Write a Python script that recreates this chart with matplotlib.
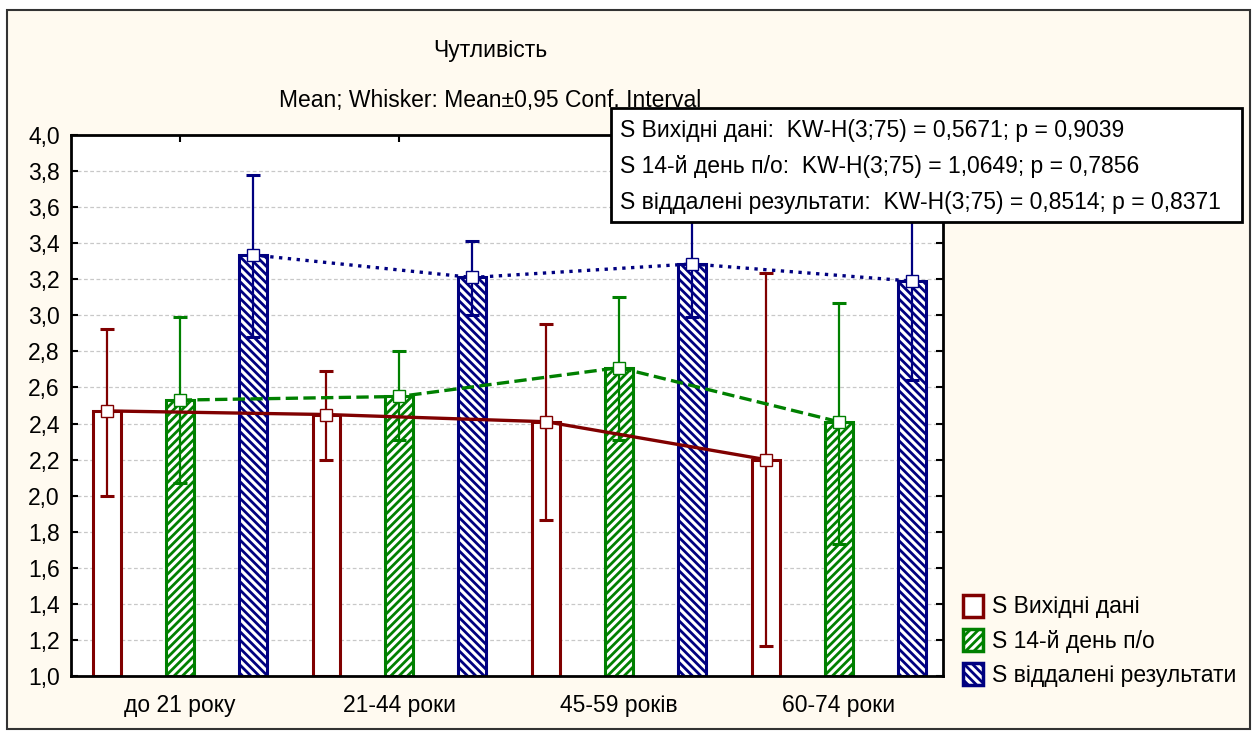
import numpy as np
import matplotlib
matplotlib.use("Agg")
import matplotlib.pyplot as plt
from matplotlib.patches import Rectangle, Patch

plt.rcParams['font.family'] = ['Liberation Sans', 'DejaVu Sans']
plt.rcParams['hatch.linewidth'] = 2.0

groups = ['до 21 року', '21-44 роки', '45-59 років', '60-74 роки']
series = ['S Вихідні дані', 'S 14-й день п/о', 'S віддалені результати']

# means and 95% CI bounds
mean_base = [2.47, 2.45, 2.41, 2.20]
lo_base = [2.00, 2.20, 1.865, 1.165]
hi_base = [2.925, 2.69, 2.95, 3.235]

mean_d14 = [2.53, 2.55, 2.71, 2.41]
lo_d14 = [2.07, 2.31, 2.31, 1.73]
hi_d14 = [2.99, 2.80, 3.10, 3.07]

mean_late = [3.335, 3.21, 3.285, 3.19]
lo_late = [2.88, 3.00, 2.99, 2.64]
hi_late = [3.78, 3.41, 3.58, 3.74]

stats = ['S Вихідні дані:  KW-H(3;75) = 0,5671; p = 0,9039',
         'S 14-й день п/о:  KW-H(3;75) = 1,0649; p = 0,7856',
         'S віддалені результати:  KW-H(3;75) = 0,8514; p = 0,8371']

colors = ['#800000', '#008000', '#000080']
hatches = [None, '////', '\\\\\\\\']
styles = ['-', '--', ':']
fs = 16.5

fig = plt.figure(figsize=(12.58, 7.35), dpi=100, facecolor='white')
fig.patches.append(Rectangle((7/1258, 1-729/735), 1243/1258, 719/735, transform=fig.transFigure,
                             facecolor='#fffaf0', edgecolor='#333333', lw=1.5, zorder=-10))
ax = fig.add_axes([71/1258, 1-676/735, 872/1258, 541/735])
ax.set_facecolor('white')

x = np.arange(len(groups))
off = 0.332
w = 0.127
data = [(mean_base, lo_base, hi_base), (mean_d14, lo_d14, hi_d14), (mean_late, lo_late, hi_late)]
for i, (m, lo, hi) in enumerate(data):
    m = np.array(m); lo = np.array(lo); hi = np.array(hi)
    xs = x + (i - 1) * off
    ax.bar(xs, m - 1.0, bottom=1.0, width=w, facecolor='white', edgecolor=colors[i],
           hatch=hatches[i], lw=2.2, zorder=2)
    ax.errorbar(xs, m, yerr=[m - lo, hi - m], fmt='none', ecolor=colors[i], elinewidth=1.6,
                capsize=5, capthick=2.2, zorder=3)
    ax.plot(xs, m, color=colors[i], ls=styles[i], lw=2.4, zorder=4)
    ax.plot(xs, m, ls='none', marker='s', ms=8, mfc='white', mec=colors[i], mew=1, zorder=5)

ax.set_xlim(-0.495, 3.475)
ax.set_ylim(1.0, 4.0)
yt = np.arange(1.0, 4.01, 0.2)
ax.set_yticks(yt)
ax.set_yticklabels([f"{v:.1f}".replace('.', ',') for v in yt], fontsize=fs)
ax.set_xticks(x)
ax.set_xticklabels(groups, fontsize=fs)
ax.tick_params(direction='in', top=True, right=True, length=5, width=1.5)
ax.tick_params(axis='x', pad=13)
ax.tick_params(axis='y', pad=8)
ax.yaxis.grid(True, ls=(0, (3, 2)), color='#c8c8c8', lw=0.9)
ax.set_axisbelow(True)
for s in ax.spines.values():
    s.set_linewidth(2)

fig.text(490/1258, 1-50/735, 'Чутливість', ha='center', va='center', fontsize=fs)
fig.text(490/1258, 1-100/735, 'Mean; Whisker: Mean±0,95 Conf. Interval', ha='center', va='center', fontsize=fs)

fig.patches.append(Rectangle((611/1258, 1-222/735), 631/1258, 114/735, transform=fig.transFigure,
                             facecolor='white', edgecolor='black', lw=2, zorder=10))
for k, s in enumerate(stats):
    fig.text(620/1258, 1-(131 + 35.5*k)/735, s, ha='left', va='center', fontsize=fs, zorder=11)

handles = [Patch(facecolor='white', edgecolor=colors[i], hatch=hatches[i], lw=2.5) for i in range(3)]
fig.legend(handles, series, loc='upper left', bbox_to_anchor=(942/1258, 1-574/735), frameon=False,
           fontsize=fs, handlelength=0.9, handleheight=1.1, handletextpad=0.4, labelspacing=0.45)

fig.savefig('out.png', dpi=100, facecolor=fig.get_facecolor())
